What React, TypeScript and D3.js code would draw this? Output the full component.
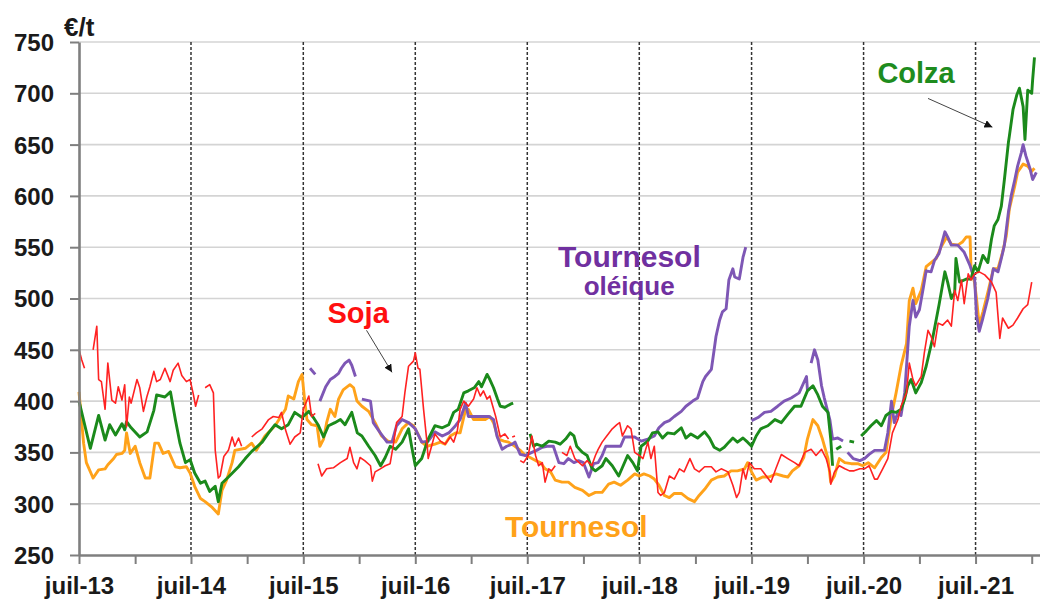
import React, { useEffect, useRef } from 'react';
import * as d3 from 'd3';

// x = months since juil-13, y = €/t (null = gap in the series)
type Pt = [number, number | null];

const colza: Pt[] = [
  [0,400],[1.2,354],[2.1,386],[2.8,362],[3.3,377],[3.9,367],[4.6,378],[4.9,372],[5.1,380],[5.6,374],[6.5,365],[7.3,370],[8.0,391],[8.3,406],[9.2,404],[9.8,409],[10.3,382],[10.8,359],[11.4,340],[11.9,343],[12.4,330],[13.0,320],[13.5,322],[14.0,312],[14.6,317],[14.9,302],[15.3,320],[16.0,326],[17.1,336],[17.8,344],[18.5,351],[19.6,360],[20.3,369],[21.0,377],[21.7,373],[22.4,377],[23.1,389],[23.9,384],[24.6,390],[25.1,384],[25.6,377],[26.2,365],[26.7,376],[27.4,379],[28.0,382],[28.5,377],[29.2,389],[29.8,369],[30.3,366],[31.0,356],[31.7,347],[32.3,337],[32.8,345],[33.3,356],[33.9,353],[34.6,360],[35.3,373],[35.6,356],[36.0,337],[36.7,344],[37.4,363],[38.1,376],[38.9,374],[39.6,377],[40.1,389],[40.6,392],[41.2,408],[41.7,410],[42.3,413],[42.8,419],[43.1,414],[43.7,426],[44.0,421],[44.4,413],[44.8,402],[45.1,395],[45.6,394],[46.2,397],[46.5,398],[47.4,null],[48.3,368],[48.7,356],[49.0,358],[49.6,356],[50.3,361],[51.0,360],[51.5,358],[52.1,363],[52.6,369],[53.0,366],[53.3,356],[53.9,350],[54.4,347],[54.9,335],[55.3,332],[56.0,337],[56.4,344],[57.1,337],[57.8,327],[58.75,347],[59.3,340],[59.8,332],[60.2,356],[60.9,361],[61.4,369],[62.0,370],[62.5,364],[63.0,369],[63.75,368],[64.5,374],[65.0,364],[65.5,368],[66.25,364],[67.0,370],[67.5,364],[68.0,355],[68.6,352],[69.1,355],[69.6,360],[70.0,364],[70.5,360],[71.1,364],[71.6,360],[72.0,356],[72.5,366],[73.0,373],[73.75,376],[74.5,382],[75.2,379],[75.9,387],[76.6,395],[77.3,395],[78.0,410],[78.6,415],[79.1,406],[79.6,395],[80.2,389],[80.5,363],[80.7,337],[80.9,null],[81.1,353],[81.6,356],[82.0,null],[82.5,361],[83.0,360],[83.4,null],[83.75,366],[84.3,371],[84.8,376],[85.4,381],[85.9,376],[86.4,386],[87.0,390],[87.5,389],[88.0,392],[88.4,402],[88.75,415],[89.1,421],[89.6,408],[90.2,418],[90.7,434],[91.4,461],[92.1,494],[92.7,526],[93.0,516],[93.4,500],[93.75,506],[93.9,539],[94.3,516],[95.0,519],[95.5,519],[95.9,532],[96.25,526],[96.8,542],[97.3,535],[97.7,558],[98.0,571],[98.4,577],[98.75,590],[99.1,616],[99.5,652],[99.6,658],[100.0,684],[100.4,698],[100.7,705],[101.1,687],[101.3,655],[101.6,703],[102.0,700],[102.1,713],[102.3,735],
];

const tournesol: Pt[] = [
  [0,409],[0.5,359],[0.8,340],[1.4,327],[1.5,325],[2.1,333],[2.8,334],[3.1,338],[3.7,344],[4.0,348],[4.6,349],[4.9,352],[5.1,369],[5.5,349],[6.0,356],[6.5,340],[7.1,325],[7.6,325],[8.1,359],[8.5,359],[9.0,349],[9.6,351],[10.3,336],[10.8,335],[11.5,336],[11.9,330],[12.4,317],[13.0,305],[13.5,302],[14.2,297],[14.9,290],[15.3,313],[15.8,323],[16.4,340],[16.7,352],[17.8,354],[18.5,359],[19.0,352],[19.9,366],[21.0,376],[22.1,392],[22.4,405],[23.0,402],[23.5,419],[23.9,426],[24.1,405],[24.4,382],[24.9,377],[25.5,376],[25.8,356],[26.2,363],[26.5,379],[26.9,392],[27.4,385],[27.8,402],[28.3,411],[29.0,416],[29.4,413],[29.75,400],[30.3,395],[31.0,390],[31.7,379],[32.4,366],[33.1,361],[33.9,360],[34.6,373],[35.3,379],[35.8,376],[36.4,366],[36.7,360],[37.25,356],[38.1,358],[38.7,360],[39.2,358],[39.75,366],[40.3,369],[40.8,369],[41.4,392],[41.7,392],[42.25,382],[42.8,382],[43.5,382],[44.0,385],[44.4,379],[44.9,363],[45.5,361],[46.0,360],[46.7,356],[47.25,352],[47.8,347],[48.3,345],[48.9,342],[49.4,340],[49.9,334],[50.5,331],[51.0,323],[51.7,321],[52.4,321],[53.1,316],[53.9,313],[54.6,308],[55.3,311],[56.0,311],[56.7,319],[57.3,321],[58.0,318],[58.75,323],[59.5,329],[60.0,327],[60.5,329],[61.1,327],[61.6,324],[62.1,318],[62.7,308],[63.2,306],[63.75,310],[64.5,310],[65.2,305],[65.9,302],[66.4,308],[67.0,314],[67.7,323],[68.4,326],[69.1,327],[69.8,332],[70.5,332],[71.25,334],[71.6,340],[72.0,331],[72.5,323],[73.2,326],[73.9,326],[74.6,329],[75.4,327],[75.9,326],[76.4,332],[77.1,337],[77.6,345],[78.0,363],[78.6,382],[79.1,376],[79.6,363],[80.2,344],[80.5,321],[80.9,327],[81.4,344],[82.0,340],[82.7,339],[83.4,339],[83.9,337],[84.5,340],[85.2,335],[85.9,345],[86.4,350],[87.0,386],[87.5,408],[88.0,434],[88.6,456],[88.9,498],[89.3,510],[89.6,495],[90.2,508],[90.7,531],[91.25,535],[91.8,539],[92.3,550],[92.9,560],[93.4,553],[94.1,552],[94.6,555],[95.0,560],[95.4,560],[95.5,531],[95.9,515],[96.1,500],[96.4,474],[96.8,487],[97.3,506],[97.9,529],[98.4,529],[98.9,545],[99.3,561],[99.6,587],[100.2,610],[100.5,623],[101.1,631],[101.6,629],[102.0,624],[102.3,627],
];

const oleique: Pt[] = [
  [24.75,432],[25.3,426],[25.5,null],[25.8,400],[26.4,414],[26.9,421],[27.4,424],[27.8,427],[28.1,432],[28.5,437],[28.9,440],[29.2,435],[29.6,424],[29.9,null],[30.3,402],[31.2,400],[31.5,379],[32.25,369],[33.0,360],[33.5,360],[34.0,376],[34.6,382],[35.3,379],[36.0,373],[36.7,360],[37.4,361],[38.1,370],[38.9,366],[39.6,369],[40.3,376],[40.8,382],[41.4,398],[41.7,385],[42.4,385],[43.1,385],[43.9,385],[44.4,382],[44.75,366],[45.3,353],[45.8,356],[46.4,358],[46.7,360],[47.25,348],[47.8,347],[48.5,350],[49.0,352],[49.6,355],[50.1,356],[50.8,356],[51.4,340],[51.9,339],[52.4,344],[53.0,340],[53.5,342],[54.0,340],[54.6,326],[55.1,339],[55.6,340],[56.0,347],[56.4,356],[57.1,356],[58.0,356],[58.4,365],[59.5,365],[60.2,361],[60.9,363],[61.6,366],[62.1,374],[62.7,379],[63.2,381],[63.75,385],[64.5,390],[65.0,395],[65.7,400],[66.25,403],[66.8,419],[67.1,424],[67.7,431],[68.0,450],[68.2,463],[68.6,479],[68.9,487],[69.3,490],[69.6,518],[70.0,529],[70.2,521],[70.7,519],[71.1,540],[71.4,550],[71.7,null],[72.0,381],[72.7,384],[73.4,389],[74.1,390],[74.8,395],[75.5,400],[76.25,403],[77.1,408],[77.9,424],[78.0,411],[78.2,null],[78.4,437],[78.75,450],[79.1,440],[79.5,415],[79.8,403],[80.4,382],[80.7,363],[81.25,364],[81.8,361],[82.0,null],[82.3,350],[82.9,344],[83.6,342],[84.1,344],[84.6,348],[85.2,352],[85.7,352],[86.25,352],[86.6,369],[87.0,400],[87.3,379],[87.7,389],[88.0,386],[88.4,408],[88.9,473],[89.3,498],[89.6,482],[90.0,489],[90.4,511],[90.7,527],[91.25,526],[91.6,537],[92.1,544],[92.7,565],[93.0,560],[93.4,552],[94.1,552],[94.8,545],[95.4,532],[95.9,519],[96.1,484],[96.4,468],[96.8,481],[97.3,500],[97.9,529],[98.4,526],[98.75,539],[99.1,552],[99.5,584],[99.8,600],[100.2,616],[100.5,629],[100.9,642],[101.1,650],[101.4,639],[101.8,627],[102.1,616],[102.5,623],
];

const soja: Pt[] = [
  [0,450],[0.3,440],[0.6,432],[1.0,null],[1.5,450],[1.9,473],[2.1,421],[2.4,419],[2.8,392],[3.1,437],[3.5,401],[3.9,398],[4.2,414],[4.6,401],[4.9,416],[5.1,375],[5.4,404],[5.6,398],[6.2,421],[6.5,413],[6.9,390],[7.25,404],[7.6,414],[8.0,429],[8.3,419],[8.7,421],[9.2,432],[9.75,419],[10.1,430],[10.6,437],[11.0,425],[11.5,419],[11.9,421],[12.25,406],[12.5,395],[12.8,406],[13.1,null],[13.5,413],[14.0,416],[14.4,408],[14.6,352],[14.9,325],[15.1,327],[15.5,346],[16.0,352],[16.4,365],[16.7,356],[17.1,364],[17.4,356],[17.9,null],[18.5,365],[19.0,369],[19.6,373],[20.3,382],[20.8,385],[21.4,384],[21.7,389],[22.1,372],[22.6,358],[23.1,365],[23.7,369],[24.0,392],[24.6,405],[24.9,385],[25.3,388],[25.45,null],[25.6,339],[26.0,327],[26.5,334],[27.25,335],[28.0,340],[28.7,344],[29.0,355],[29.4,340],[29.75,334],[30.1,345],[30.6,342],[31.2,337],[31.4,322],[31.7,331],[32.25,334],[32.8,337],[33.3,339],[33.7,360],[34.0,379],[34.6,385],[34.9,408],[35.3,434],[35.8,439],[36.0,447],[36.3,432],[36.5,431],[36.9,392],[37.25,360],[37.4,344],[38.1,368],[38.7,361],[39.2,358],[39.75,365],[40.1,360],[40.5,371],[40.8,392],[41.2,400],[41.7,395],[42.25,402],[42.6,413],[42.96,405],[43.3,410],[43.7,402],[44.0,405],[44.6,385],[45.1,365],[45.6,368],[46.0,363],[46.2,null],[46.4,365],[46.7,366],[47.0,null],[47.25,342],[47.6,340],[48.1,347],[48.5,366],[48.9,347],[49.2,337],[49.6,340],[49.9,321],[50.3,334],[50.6,332],[51.0,337],[51.3,null],[51.7,350],[52.25,347],[52.6,356],[53.1,344],[53.9,337],[54.4,342],[54.9,337],[55.3,347],[55.6,353],[56.0,360],[56.5,366],[57.1,373],[57.6,377],[57.9,379],[58.2,366],[58.75,376],[59.1,373],[59.5,350],[60.0,347],[60.4,344],[60.9,360],[61.25,344],[61.6,356],[62.0,311],[62.3,308],[62.7,311],[63.2,327],[63.75,324],[64.3,334],[64.8,331],[65.4,344],[65.9,334],[66.4,331],[67.0,336],[67.7,336],[68.2,331],[68.75,334],[69.5,331],[70.0,318],[70.4,306],[70.7,311],[71.1,334],[71.4,324],[71.8,340],[72.3,334],[73.0,334],[73.6,327],[74.1,321],[74.6,334],[75.2,348],[75.9,344],[76.6,340],[77.1,337],[77.7,350],[78.4,353],[78.9,347],[79.5,353],[80.0,344],[80.4,331],[80.5,319],[80.9,331],[81.4,337],[82.0,334],[82.5,332],[83.0,332],[83.6,334],[84.1,334],[84.6,337],[85.2,324],[85.5,324],[86.1,335],[86.6,344],[87.1,369],[87.7,382],[88.0,395],[88.6,408],[88.9,437],[89.3,421],[89.6,415],[90.2,424],[90.5,447],[90.9,469],[91.25,463],[91.6,453],[92.0,476],[92.5,474],[93.0,479],[93.4,473],[93.75,508],[94.1,498],[94.5,518],[94.8,495],[95.2,524],[95.5,518],[95.9,524],[96.4,526],[97.0,523],[97.7,516],[98.2,506],[98.6,461],[98.9,481],[99.5,471],[100.0,474],[100.5,481],[101.1,490],[101.6,494],[102.0,516],
];

const yTicks = [250, 300, 350, 400, 450, 500, 550, 600, 650, 700, 750];
const xTickLabels = ['juil-13', 'juil-14', 'juil-15', 'juil-16', 'juil.-17', 'juil.-18', 'juil.-19', 'juil.-20', 'juil.-21'];

const series = [
  { name: 'Tournesol', data: tournesol, color: '#ffa21a', width: 2.9 },
  { name: 'Tournesol oléique', data: oleique, color: '#7e57b5', width: 2.9 },
  { name: 'Colza', data: colza, color: '#1b8a1b', width: 2.9 },
  { name: 'Soja', data: soja, color: '#ff2222', width: 1.6 },
];

// labels: [text, month, value, colour, size, anchor]
const labels: [string, number, number, string, number, string][] = [
  ['Soja', 26.6, 476, '#ff1010', 29, 'start'],
  ['Tournesol', 51.3, 531, '#7030a0', 30, 'start'],
  ['oléique', 58.9, 503, '#7030a0', 26, 'middle'],
  ['Colza', 85.5, 710, '#1e8c1e', 29, 'start'],
  ['Tournesol', 45.6, 268, '#ffa21a', 30, 'start'],
];

// arrows: from [month, value] to [month, value]
const arrows: [number, number, number, number][] = [
  [30.8, 469, 33.5, 428],
  [90.9, 695, 97.8, 667],
];

const start = new Date(2013, 6, 1);
const toDate = (m: number) => d3.timeDay.offset(start, Math.round(m * 30.4375));

const FONT = '"Liberation Sans", Arial, sans-serif';

const App: React.FC = () => {
  const ref = useRef<SVGSVGElement>(null);

  useEffect(() => {
    if (!ref.current) return;
    const svg = d3.select(ref.current);
    svg.selectAll('*').remove();

    const left = 79, right = 1040, top = 42, bottom = 555;
    const x = d3.scaleTime().domain([toDate(0), toDate(102.9)]).range([left, right]);
    const y = d3.scaleLinear().domain([250, 750]).range([bottom, top]);

    svg.append('defs').append('marker')
      .attr('id', 'arrowhead')
      .attr('viewBox', '0 0 10 10')
      .attr('refX', 10).attr('refY', 5)
      .attr('markerWidth', 8).attr('markerHeight', 8)
      .attr('markerUnits', 'userSpaceOnUse')
      .attr('orient', 'auto')
      .append('path').attr('d', 'M0,0 L10,5 L0,10 z').attr('fill', '#111');

    // horizontal grid
    svg.append('g').selectAll('line')
      .data(yTicks.slice(1))
      .enter().append('line')
      .attr('x1', left).attr('x2', right)
      .attr('y1', d => y(d)).attr('y2', d => y(d))
      .attr('stroke', '#d4d4d4').attr('stroke-width', 1.6);

    // dashed year lines
    const years = d3.range(1, xTickLabels.length).map(i => toDate(i * 12));
    svg.append('g').selectAll('line')
      .data(years)
      .enter().append('line')
      .attr('x1', d => x(d)).attr('x2', d => x(d))
      .attr('y1', top).attr('y2', bottom)
      .attr('stroke', '#333').attr('stroke-width', 1.5)
      .attr('stroke-dasharray', '3,2');

    const line = d3.line<Pt>()
      .defined(d => d[1] !== null)
      .x(d => x(toDate(d[0])))
      .y(d => y(d[1] as number));

    series.forEach(s => {
      svg.append('path')
        .datum(s.data)
        .attr('fill', 'none')
        .attr('stroke', s.color)
        .attr('stroke-width', s.width)
        .attr('stroke-linejoin', 'round')
        .attr('d', line);
    });

    // axes
    const yAxis = d3.axisLeft(y).tickValues(yTicks).tickSize(9).tickSizeOuter(0).tickPadding(16);
    const gy = svg.append('g').attr('transform', `translate(${left},0)`).call(yAxis);
    gy.select('.domain').attr('stroke', '#7f7f7f').attr('stroke-width', 2.6);
    gy.selectAll('.tick line').attr('stroke', '#7f7f7f').attr('stroke-width', 2);
    gy.selectAll('.tick text')
      .attr('font-family', FONT).attr('font-size', 24).attr('font-weight', 'bold')
      .attr('fill', '#1a1a1a').attr('dy', '0.35em');

    const xTickDates = d3.range(0, xTickLabels.length * 2).map(i => toDate(i * 6));
    const xAxis = d3.axisBottom(x)
      .tickValues(xTickDates)
      .tickSize(9).tickSizeOuter(0)
      .tickFormat((d, i) => (i % 2 === 0 ? xTickLabels[i / 2] : ''));
    const gx = svg.append('g').attr('transform', `translate(0,${bottom})`).call(xAxis as any);
    gx.select('.domain').attr('stroke', '#7f7f7f').attr('stroke-width', 2.6);
    gx.selectAll('.tick line').attr('stroke', '#7f7f7f').attr('stroke-width', 2);
    gx.selectAll('.tick text')
      .attr('font-family', FONT).attr('font-size', 24).attr('font-weight', 'bold')
      .attr('fill', '#1a1a1a').attr('y', 39).attr('dy', 0);

    svg.append('text')
      .attr('x', 64).attr('y', 36)
      .attr('font-family', FONT).attr('font-size', 26).attr('font-weight', 'bold')
      .attr('fill', '#1a1a1a')
      .text('€/t');

    // annotations
    svg.append('g').selectAll('line')
      .data(arrows)
      .enter().append('line')
      .attr('x1', d => x(toDate(d[0]))).attr('y1', d => y(d[1]))
      .attr('x2', d => x(toDate(d[2]))).attr('y2', d => y(d[3]))
      .attr('stroke', '#444').attr('stroke-width', 1)
      .attr('marker-end', 'url(#arrowhead)');

    svg.append('g').selectAll('text')
      .data(labels)
      .enter().append('text')
      .attr('x', d => x(toDate(d[1])))
      .attr('y', d => y(d[2]))
      .attr('fill', d => d[3])
      .attr('font-size', d => d[4])
      .attr('text-anchor', d => d[5])
      .attr('font-family', FONT)
      .attr('font-weight', 'bold')
      .text(d => d[0]);
  }, []);

  return (
    <div style={{ position: 'absolute', left: 0, top: 0 }}>
      <svg ref={ref} width={1040} height={602} style={{ display: 'block', background: '#fff' }}></svg>
    </div>
  );
};

export default App;
